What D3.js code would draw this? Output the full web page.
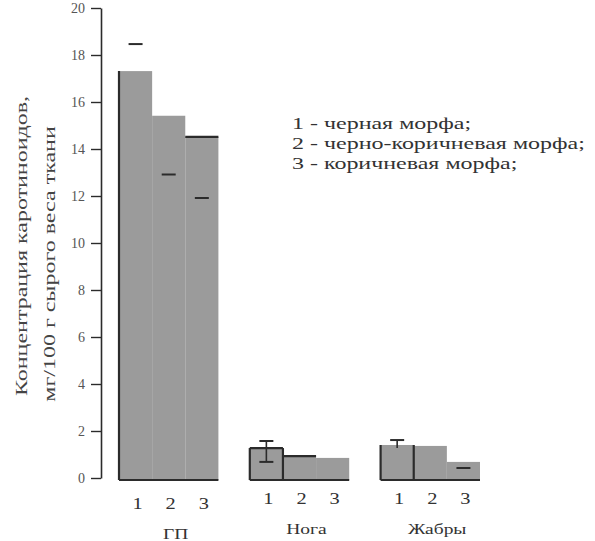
<!DOCTYPE html>
<html>
<head>
	<meta charset="utf-8" />
	<script src="https://d3js.org/d3.v7.min.js"></script>
	<style>
		body, html { margin: 0; background: #fff; }
		svg { font-family: "Liberation Serif", "DejaVu Serif", serif; }
	</style>
</head>
<body>
	<svg id="chart" width="595" height="541"></svg>
	<script>
		// organs and morphs
		var groups = ["ГП", "Нога", "Жабры"];
		var morphs = ["1", "2", "3"];
		// carotenoid concentration, mg/100 g wet weight
		var values = [
			[17.4, 15.5, 14.6],
			[1.36, 1.02, 0.94],
			[1.49, 1.45, 0.77]
		];
		// visible error bar ends (null = not shown)
		var errHigh = [
			[18.55, null, null],
			[1.66, null, null],
			[1.70, null, null]
		];
		var errLow = [
			[null, 13.0, 12.0],
			[0.77, null, null],
			[null, null, 0.51]
		];
		var yTicks = [0, 2, 4, 6, 8, 10, 12, 14, 16, 18, 20];
		var legendLines = ["1 - черная морфа;", "2 - черно-коричневая морфа;", "3 - коричневая морфа;"];
		var yTitle = ["Концентрация каротиноидов,", "мг/100 г сырого веса ткани"];

		var svg = d3.select("#chart");
		var dark = "#2b2b2b";
		var stretch = 1.5; // the print has wide, squat lettering

		var y = d3.scaleLinear().domain([0, 20]).range([480, 10]);
		var x0 = d3.scaleBand().domain(groups).range([119, 480]).paddingInner(0.24).paddingOuter(0);
		var x1 = d3.scaleBand().domain(morphs).range([0, x0.bandwidth()]).padding(0);

		// y axis
		var yAxis = svg.append("g")
			.attr("transform", "translate(101,-2)")
			.call(d3.axisLeft(y).tickValues(yTicks).tickSize(10).tickSizeOuter(0).tickPadding(6));
		yAxis.select(".domain").attr("stroke", dark).attr("stroke-width", 1.6);
		yAxis.selectAll(".tick line").attr("stroke", dark).attr("stroke-width", 1.4);
		yAxis.selectAll(".tick text").attr("font-size", 14).attr("fill", "#555")
			.attr("font-family", "Liberation Serif, serif");

		// axis title, two rotated lines
		var titleX = [27, 55], titleY = [246, 264];
		yTitle.forEach(function (t, i) {
			svg.append("text")
				.attr("transform", "translate(" + titleX[i] + "," + titleY[i] + ") rotate(-90) scale(" + stretch + ",1)")
				.attr("text-anchor", "middle")
				.attr("font-size", 16)
				.attr("fill", "#444")
				.text(t);
		});

		groups.forEach(function (g, gi) {
			var gx = x0(g);
			var grp = svg.append("g").attr("transform", "translate(" + gx + ",0)");

			grp.selectAll("rect")
				.data(values[gi])
				.enter()
				.append("rect")
				.attr("x", function (d, i) { return x1(morphs[i]); })
				.attr("y", function (d) { return y(d); })
				.attr("width", x1.bandwidth())
				.attr("height", function (d) { return y(0) - y(d); })
				.attr("fill", "#9b9b9b");

			// dark outline bits as they appear in the print
			var v = values[gi];
			var b0 = x1("1"), b1 = x1("2"), b2 = x1("3"), bw = x1.bandwidth();
			var segs = [[0, y(0), x0.bandwidth(), y(0)], [b0, y(0), b0, y(v[0])]];
			if (gi === 0) segs.push([b2, y(v[2]), b2 + bw, y(v[2])]);
			if (gi === 1) {
				segs.push([b0, y(v[0]), b0 + bw, y(v[0])]);
				segs.push([b1, y(0), b1, y(v[0])]);
				segs.push([b1, y(v[1]), b1 + bw, y(v[1])]);
			}
			if (gi === 2) segs.push([b1, y(0), b1, y(v[0])]);
			grp.selectAll("line.edge")
				.data(segs)
				.enter()
				.append("line")
				.attr("class", "edge")
				.attr("x1", function (d) { return d[0]; })
				.attr("y1", function (d) { return d[1]; })
				.attr("x2", function (d) { return d[2]; })
				.attr("y2", function (d) { return d[3]; })
				.attr("stroke", dark)
				.attr("stroke-width", 2.2);

			// error bars
			morphs.forEach(function (m, i) {
				var cx = x1(m) + bw / 2;
				var hi = errHigh[gi][i], lo = errLow[gi][i];
				[hi, lo].forEach(function (e) {
					if (e === null) return;
					grp.append("line")
						.attr("x1", cx - 7).attr("x2", cx + 7)
						.attr("y1", y(e)).attr("y2", y(e))
						.attr("stroke", dark).attr("stroke-width", 2);
				});
				if (gi > 0 && hi !== null) {
					grp.append("line")
						.attr("x1", cx).attr("x2", cx)
						.attr("y1", y(hi)).attr("y2", lo !== null ? y(lo) : y(values[gi][i]) + 3)
						.attr("stroke", dark).attr("stroke-width", 1.6);
				}
			});

			// morph numbers
			grp.selectAll("text.num")
				.data(morphs)
				.enter()
				.append("text")
				.attr("class", "num")
				.attr("transform", function (m) { return "translate(" + (x1(m) + bw / 2 + 2) + "," + (gi === 0 ? 509 : 504) + ") scale(1.2,1)"; })
				.attr("text-anchor", "middle")
				.attr("font-size", 17)
				.attr("fill", "#333")
				.text(function (m) { return m; });

			grp.append("text")
				.attr("transform", "translate(" + (x0.bandwidth() / 2 + 7) + "," + (gi === 0 ? 539 : 534) + ") scale(1.3,1)")
				.attr("text-anchor", "middle")
				.attr("font-size", 15)
				.attr("fill", "#333")
				.text(g);
		});

		// legend
		svg.append("g")
			.attr("transform", "translate(292,0) scale(" + stretch + ",1)")
			.selectAll("text")
			.data(legendLines)
			.enter()
			.append("text")
			.attr("x", 0)
			.attr("y", function (d, i) { return 129 + i * 20; })
			.attr("font-size", 16)
			.attr("fill", "#333")
			.text(function (d) { return d; });
	</script>
</body>
</html>
